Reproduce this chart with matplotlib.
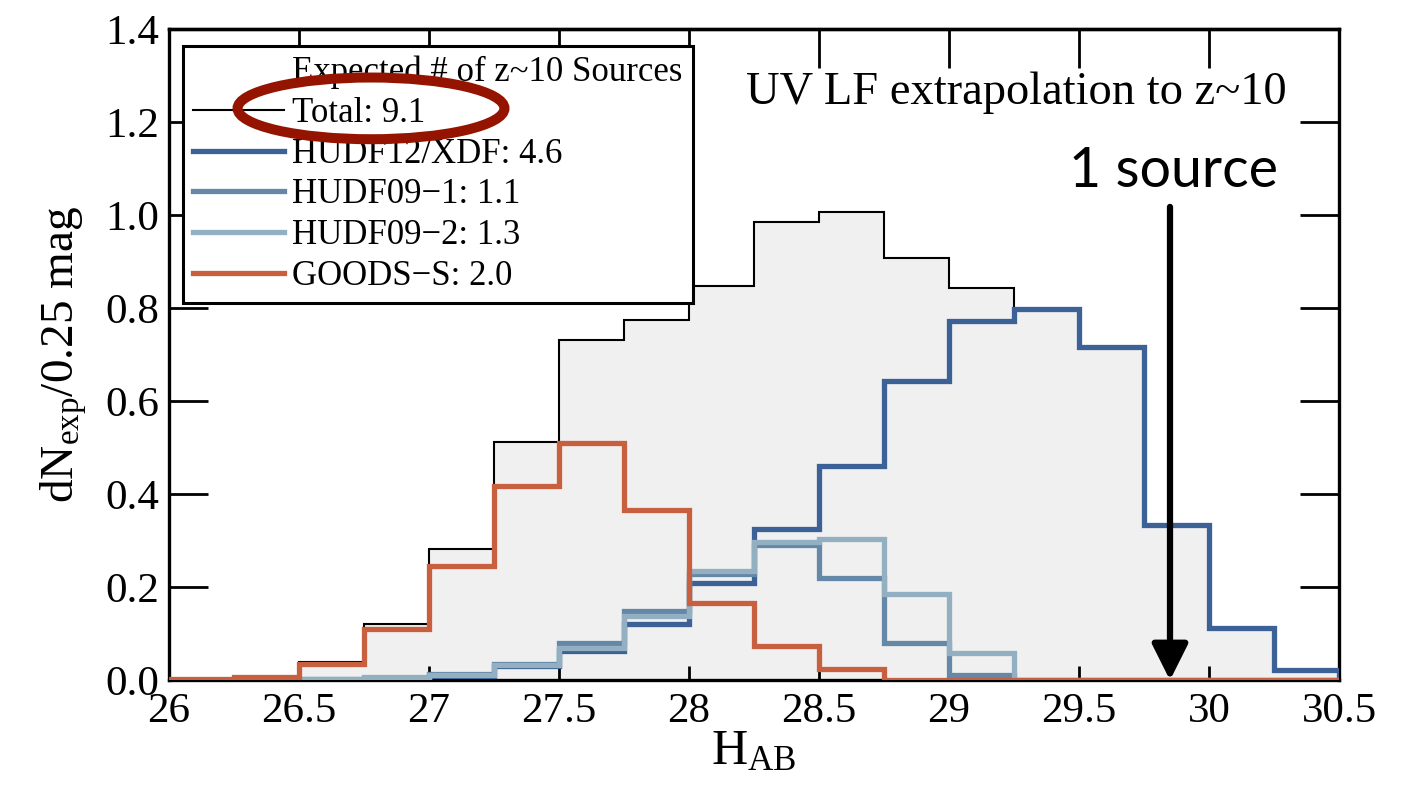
import numpy as np
import matplotlib
matplotlib.use("Agg")
import matplotlib.pyplot as plt
from matplotlib.lines import Line2D
from matplotlib.patches import Ellipse

plt.rcParams['font.family'] = ['Liberation Serif', 'DejaVu Serif']
plt.rcParams['mathtext.fontset'] = 'custom'
plt.rcParams['mathtext.rm'] = 'Liberation Serif'
plt.rcParams['mathtext.it'] = 'Liberation Serif:italic'

# ---- data (expected counts per 0.25 mag bin) ----
bin_edges = [26.00, 26.25, 26.50, 26.75, 27.00, 27.25, 27.50, 27.75, 28.00, 28.25,
             28.50, 28.75, 29.00, 29.25, 29.50, 29.75, 30.00, 30.25, 30.50, 30.75]
total = [0.0, 0.008, 0.040, 0.120, 0.282, 0.513, 0.732, 0.775, 0.847, 0.985,
         1.006, 0.909, 0.844, 0.798, 0.717, 0.334, 0.112, 0.021, 0.0]
hudf12_xdf = [0.0, 0.0, 0.001, 0.002, 0.010, 0.030, 0.062, 0.122, 0.209, 0.325,
              0.460, 0.643, 0.772, 0.798, 0.717, 0.334, 0.112, 0.021, 0.0]
hudf09_1 = [0.0, 0.0, 0.002, 0.005, 0.014, 0.035, 0.081, 0.150, 0.228, 0.290,
            0.219, 0.081, 0.011, 0.0, 0.0, 0.0, 0.0, 0.0, 0.0]
hudf09_2 = [0.0, 0.0, 0.002, 0.006, 0.012, 0.032, 0.070, 0.138, 0.234, 0.298,
            0.303, 0.185, 0.058, 0.0, 0.0, 0.0, 0.0, 0.0, 0.0]
goods_s = [0.002, 0.007, 0.035, 0.110, 0.246, 0.418, 0.511, 0.366, 0.167, 0.073,
           0.024, 0.0, 0.0, 0.0, 0.0, 0.0, 0.0, 0.0, 0.0]

legend_title = "Expected # of z~10 Sources"
series_labels = ["Total: 9.1", "HUDF12/XDF: 4.6", "HUDF09\u22121: 1.1",
                 "HUDF09\u22122: 1.3", "GOODS\u2212S: 2.0"]
x_ticks = [26, 26.5, 27, 27.5, 28, 28.5, 29, 29.5, 30, 30.5]
x_tick_labels = ["26", "26.5", "27", "27.5", "28", "28.5", "29", "29.5", "30", "30.5"]
y_ticks = [0.0, 0.2, 0.4, 0.6, 0.8, 1.0, 1.2, 1.4]
y_tick_labels = ["0.0", "0.2", "0.4", "0.6", "0.8", "1.0", "1.2", "1.4"]
source_mag = 29.85

c_dark = '#3b6196'
c_mid = '#6587a8'
c_light = '#93b0c2'
c_orange = '#c8603f'

fig = plt.figure(figsize=(14.08, 7.91), dpi=100)
ax = fig.add_axes([0.120, 0.140, 0.831, 0.823])

ax.stairs(total, bin_edges, fill=True, color='#f0f0f0', zorder=1)
ax.stairs(total, bin_edges, color='black', lw=1.5, zorder=2)
ax.stairs(hudf12_xdf, bin_edges, color=c_dark, lw=3.8, zorder=3)
ax.stairs(hudf09_1, bin_edges, color=c_mid, lw=3.8, zorder=4)
ax.stairs(hudf09_2, bin_edges, color=c_light, lw=3.8, zorder=5)
ax.stairs(goods_s, bin_edges, color=c_orange, lw=3.8, zorder=6)

ax.set_xlim(26, 30.5)
ax.set_ylim(0, 1.4)
ax.set_xticks(x_ticks)
ax.set_xticklabels(x_tick_labels)
ax.set_yticks(y_ticks)
ax.set_yticklabels(y_tick_labels)
ax.tick_params(axis='x', which='major', direction='in', length=10, width=2,
               bottom=True, top=False, labelsize=31, pad=9)
ax.tick_params(axis='y', which='major', direction='in', length=28, width=2,
               left=True, right=True, labelsize=31, pad=7)
secx = ax.secondary_xaxis('top')
secx.set_xticks(x_ticks)
secx.tick_params(direction='in', length=28, width=2, labeltop=False)
for sp in list(ax.spines.values()) + list(secx.spines.values()):
    sp.set_linewidth(2.4)

ax.set_xlabel("H$_{\\rm AB}$", fontsize=36)
ax.xaxis.set_label_coords(0.5, -0.075)
ax.set_ylabel("dN$_{\\rm exp}$/0.25 mag", fontsize=34)
ax.yaxis.set_label_coords(-0.068, 0.5)

ax.text(30.30, 1.239, "UV LF extrapolation to z~10", fontsize=33.5,
        ha='right', va='baseline', zorder=8)
ax.text(29.865, 1.061, "1 source", fontsize=40, family=['Lato', 'DejaVu Sans'],
        ha='center', va='baseline', zorder=8)
ax.annotate("", xy=(source_mag, 0.0), xytext=(source_mag, 1.018),
            arrowprops=dict(arrowstyle='-|>,head_length=2.2,head_width=1.1',
                            lw=4.5, color='black', shrinkA=0, shrinkB=0),
            zorder=9)

handles = [Line2D([], [], color='none'),
           Line2D([], [], color='black', lw=1.5),
           Line2D([], [], color=c_dark, lw=3.8),
           Line2D([], [], color=c_mid, lw=3.8),
           Line2D([], [], color=c_light, lw=3.8),
           Line2D([], [], color=c_orange, lw=3.8)]
labels = [legend_title] + series_labels
leg = ax.legend(handles, labels, loc='upper left', bbox_to_anchor=(0.012, 0.975),
                borderaxespad=0, fontsize=25, handlelength=2.6, handletextpad=0.25,
                borderpad=0.3, labelspacing=0.22, fancybox=False, framealpha=1,
                edgecolor='black')
leg.get_frame().set_linewidth(2.2)
leg.set_zorder(10)

ell = Ellipse((0.2635, 0.863), 0.1896, 0.078, transform=fig.transFigure,
              fill=False, edgecolor='#941400', lw=7.2, zorder=20)
fig.add_artist(ell)

fig.savefig("out.png", dpi=100)
